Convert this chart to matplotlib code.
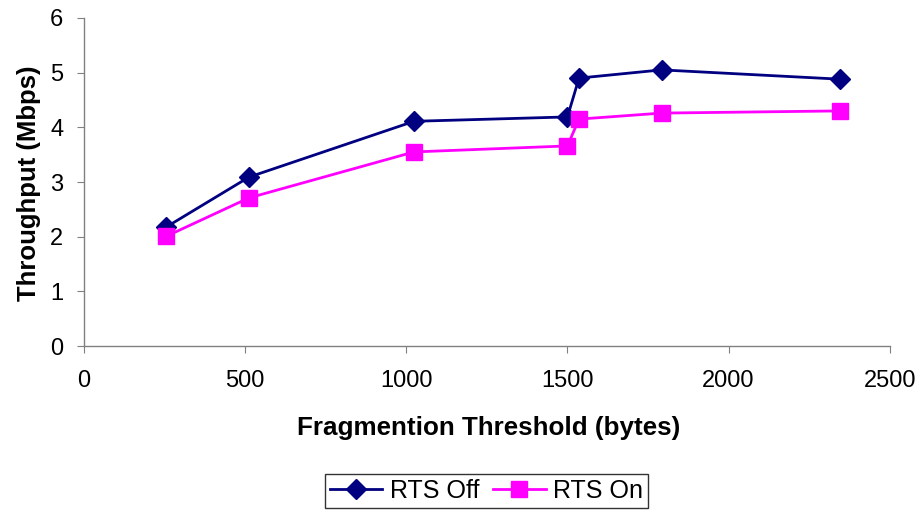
import matplotlib.pyplot as plt

# Throughput vs fragmentation threshold, with and without RTS/CTS
threshold = [256, 512, 1024, 1500, 1536, 1792, 2346]
rts_off = [2.18, 3.09, 4.11, 4.19, 4.90, 5.05, 4.88]
rts_on = [2.01, 2.71, 3.55, 3.66, 4.15, 4.26, 4.30]

plt.rcParams['font.family'] = ['Liberation Sans', 'DejaVu Sans']

fig = plt.figure(figsize=(9.24, 5.12), dpi=100)
ax = fig.add_axes([0.0909, 0.324, 0.872, 0.641])

ax.plot(threshold, rts_off, color='#000080', lw=2, marker='D', ms=10,
        label='RTS Off')
ax.plot(threshold, rts_on, color='#FF00FF', lw=2, marker='s', ms=11.5,
        label='RTS On')

ax.set_xlim(0, 2500)
ax.set_ylim(0, 6)
ax.set_xticks(range(0, 2501, 500))
ax.set_yticks(range(0, 7))

for side in ('top', 'right'):
    ax.spines[side].set_visible(False)
for side in ('left', 'bottom'):
    ax.spines[side].set_color('#808080')
    ax.spines[side].set_linewidth(1)
ax.tick_params(direction='out', length=5, color='#808080', labelsize=17,
               labelcolor='black')
ax.tick_params(axis='x', pad=12)
ax.tick_params(axis='y', pad=10)

ax.set_xlabel('Fragmention Threshold (bytes)', fontsize=18.7,
              fontweight='bold')
ax.set_ylabel('Throughput (Mbps)', fontsize=18.5, fontweight='bold')
ax.xaxis.set_label_coords(0.502, -0.214)
ax.yaxis.set_label_coords(-0.053, 0.497)

leg = fig.legend(loc='center', bbox_to_anchor=(0.5265, 0.041), ncol=2,
                 fontsize=18, frameon=True, fancybox=False, handlelength=2.1,
                 columnspacing=0.55, handletextpad=0.3, borderpad=0.2,
                 borderaxespad=0, edgecolor='black')
leg.get_frame().set_linewidth(1)

fig.savefig('out.png', dpi=100)
